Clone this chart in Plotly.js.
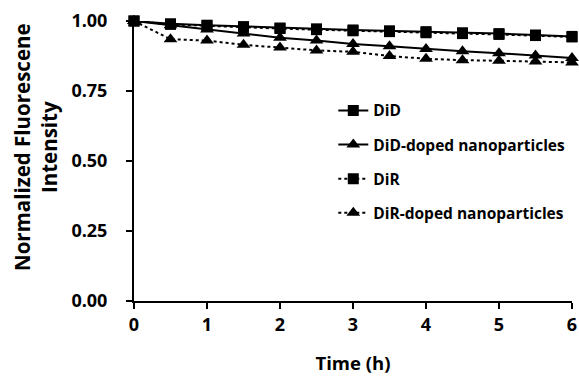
<!DOCTYPE html>
<html><head><meta charset="utf-8">
<script src="https://cdn.plot.ly/plotly-3.0.1.min.js"></script>
<style>html,body{margin:0;padding:0;background:#fff}</style>
</head><body>
<div id="chart" style="width:579px;height:376px"></div>
<script>
const time = [0, 0.5, 1, 1.5, 2, 2.5, 3, 3.5, 4, 4.5, 5, 5.5, 6];
const did = [1, 0.99, 0.985, 0.98, 0.975, 0.972, 0.968, 0.965, 0.962, 0.958, 0.955, 0.95, 0.945];
const didNP = [1, 0.985, 0.97, 0.955, 0.94, 0.93, 0.918, 0.91, 0.9, 0.892, 0.885, 0.877, 0.868];
const dir = [1, 0.988, 0.983, 0.977, 0.973, 0.969, 0.965, 0.962, 0.958, 0.955, 0.952, 0.948, 0.943];
const dirNP = [1, 0.935, 0.93, 0.915, 0.905, 0.895, 0.89, 0.875, 0.865, 0.86, 0.858, 0.855, 0.852];
const names = ['DiD', 'DiD-doped nanoparticles', 'DiR', 'DiR-doped nanoparticles'];
const yTicks = [0, 0.25, 0.5, 0.75, 1.0];
const xTicks = [0, 1, 2, 3, 4, 5, 6];
const yTitle = 'Normalized Fluorescene<br>Intensity';
const xTitle = 'Time (h)';

const F = 'Open Sans, Noto Sans, sans-serif';
function tr(y, name, sym, dash, grp){
  return {x: time, y: y, name: name, type: 'scatter', mode: 'lines+markers',
    legendgroup: grp, cliponaxis: false,
    line: {color: '#000', width: 2, dash: dash},
    marker: {symbol: sym, size: sym === 'square' ? 11 : 12, color: '#000'}};
}
const data = [
  {x: [], y: [], yaxis: 'y2', type: 'scatter', mode: 'lines', showlegend: false, hoverinfo: 'skip'},
  tr(did, names[0], 'square', 'solid', 'a'),
  tr(didNP, names[1], 'triangle-up', 'solid', 'b'),
  tr(dir, names[2], 'square', 'dot', 'c'),
  tr(dirNP, names[3], 'triangle-up', 'dot', 'd')
];
const layout = {
  width: 579, height: 376,
  margin: {l: 134, r: 7, t: 21, b: 75},
  paper_bgcolor: '#fff', plot_bgcolor: '#fff',
  showlegend: true,
  legend: {x: 0.455, y: 0.74, xanchor: 'left', yanchor: 'top', bgcolor: 'rgba(0,0,0,0)',
    font: {family: F, size: 15.5, color: '#000', weight: 'bold'},
    traceorder: 'grouped', tracegroupgap: 11, itemwidth: 30},
  xaxis: {range: [0, 6], tickvals: xTicks, ticktext: xTicks.map(String),
    showline: true, linecolor: '#000', linewidth: 2, showgrid: false, zeroline: false,
    ticks: 'outside', ticklen: 6, tickwidth: 2, tickcolor: '#000',
    tickfont: {family: F, size: 18, color: '#000', weight: 'bold'},
    title: {text: xTitle, font: {family: F, size: 18.5, color: '#000', weight: 'bold'}, standoff: 22}},
  yaxis: {range: [0, 1.0], tickvals: yTicks, ticktext: yTicks.map(v => v.toFixed(2)),
    showline: true, linecolor: '#000', linewidth: 2, showgrid: false, zeroline: false,
    ticks: 'outside', ticklen: 21, tickwidth: 2, tickcolor: 'rgba(0,0,0,0)',
    tickfont: {family: F, size: 18, color: '#000', weight: 'bold'}},
  yaxis2: {range: [0, 1.0], overlaying: 'y', side: 'left', anchor: 'x', tickvals: yTicks,
    showticklabels: false, showline: true, linecolor: '#000', linewidth: 2,
    showgrid: false, zeroline: false,
    ticks: 'outside', ticklen: 6, tickwidth: 2, tickcolor: '#000'},
  annotations: [{text: yTitle, xref: 'paper', yref: 'paper', x: -0.226, y: 0.55,
    xanchor: 'center', yanchor: 'middle', textangle: -90, showarrow: false,
    font: {family: F, size: 20.5, color: '#000', weight: 'bold'}}]
};
Plotly.newPlot('chart', data, layout, {displayModeBar: false, staticPlot: true});
</script>
</body></html>
